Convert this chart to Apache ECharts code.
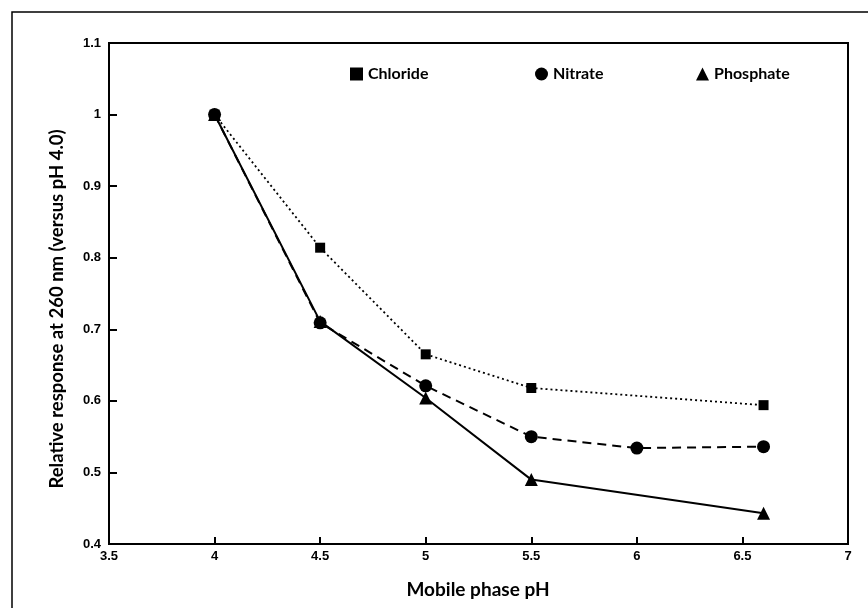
<!DOCTYPE html>
<html>
<head>
<meta charset="utf-8">
<script src="https://cdn.jsdelivr.net/npm/echarts@6/dist/echarts.min.js"></script>
<style>html,body{margin:0;padding:0;background:#fff;}#c{width:868px;height:608px;}</style>
</head>
<body>
<div id="c"></div>
<script>
const xTicks = [3.5, 4, 4.5, 5, 5.5, 6, 6.5, 7];
const yTicks = [0.4, 0.5, 0.6, 0.7, 0.8, 0.9, 1, 1.1];
const chlorideX = [4, 4.5, 5, 5.5, 6.6];
const chlorideY = [1.0, 0.814, 0.665, 0.618, 0.594];
const nitrateX = [4, 4.5, 5, 5.5, 6, 6.6];
const nitrateY = [1.0, 0.709, 0.621, 0.550, 0.534, 0.536];
const phosphateX = [4, 4.5, 5, 5.5, 6.6];
const phosphateY = [1.0, 0.711, 0.604, 0.490, 0.443];
const seriesNames = ['Chloride', 'Nitrate', 'Phosphate'];
const xTitle = 'Mobile phase pH';
const yTitle = 'Relative response at 260 nm (versus pH 4.0)';

const pair = (xs, ys) => xs.map((x, i) => [x, ys[i]]);
const tickFont = {fontFamily: 'Liberation Sans', fontWeight: 'bold', fontSize: 13, color: '#000'};
const titleFont = 'Lato';

const chart = echarts.init(document.getElementById('c'), null, {renderer: 'canvas'});
const legendBase = {
  top: 61, itemWidth: 13, itemHeight: 13, itemGap: 0,
  textStyle: {fontFamily: titleFont, fontWeight: 'bold', fontSize: 16, color: '#000'},
  selectedMode: false
};
chart.setOption({
  animation: false,
  backgroundColor: '#fff',
  grid: {left: 109, right: 20, top: 43, bottom: 64, show: true, borderColor: '#000', borderWidth: 2, backgroundColor: 'transparent'},
  legend: [
    Object.assign({}, legendBase, {left: 345, data: [{name: seriesNames[0], icon: 'rect'}]}),
    Object.assign({}, legendBase, {left: 530, data: [{name: seriesNames[1], icon: 'circle'}]}),
    Object.assign({}, legendBase, {left: 691, data: [{name: seriesNames[2], icon: 'triangle'}]})
  ],
  xAxis: {
    type: 'value', min: xTicks[0], max: xTicks[xTicks.length - 1], interval: 0.5,
    axisLine: {show: true, lineStyle: {color: '#000', width: 2}},
    axisTick: {show: true, inside: true, length: 7, lineStyle: {color: '#000', width: 2}},
    axisLabel: Object.assign({margin: 6, formatter: v => String(v)}, tickFont),
    splitLine: {show: false}
  },
  yAxis: {
    type: 'value', min: yTicks[0], max: yTicks[yTicks.length - 1], interval: 0.1,
    axisLine: {show: true, lineStyle: {color: '#000', width: 2}},
    axisTick: {show: true, inside: true, length: 8, lineStyle: {color: '#000', width: 2}},
    axisLabel: Object.assign({margin: 8, formatter: v => String(Math.round(v * 10) / 10)}, tickFont),
    splitLine: {show: false}
  },
  graphic: [
    {type: 'rect', silent: true, z: -1, shape: {x: 12, y: 12, width: 900, height: 700}, style: {fill: 'none', stroke: '#000', lineWidth: 1.5}},
    {type: 'text', x: 478, y: 590, style: {text: xTitle, font: 'bold 19px "Lato"', fill: '#000', align: 'center', verticalAlign: 'middle'}},
    {type: 'text', x: 57, y: 309, rotation: Math.PI / 2, style: {text: yTitle, font: 'bold 18.5px "Lato"', fill: '#000', align: 'center', verticalAlign: 'middle'}}
  ],
  series: [
    {name: seriesNames[0], type: 'line', data: pair(chlorideX, chlorideY), symbol: 'rect', symbolSize: 10,
     itemStyle: {color: '#000'}, lineStyle: {color: '#000', width: 1.8, type: [2, 3]}, z: 2},
    {name: seriesNames[1], type: 'line', data: pair(nitrateX, nitrateY), symbol: 'circle', symbolSize: 13,
     itemStyle: {color: '#000'}, lineStyle: {color: '#000', width: 2, type: [9, 6]}, z: 3},
    {name: seriesNames[2], type: 'line', data: pair(phosphateX, phosphateY), symbol: 'triangle', symbolSize: 13,
     itemStyle: {color: '#000'}, lineStyle: {color: '#000', width: 2}, z: 4}
  ]
});
</script>
</body>
</html>
